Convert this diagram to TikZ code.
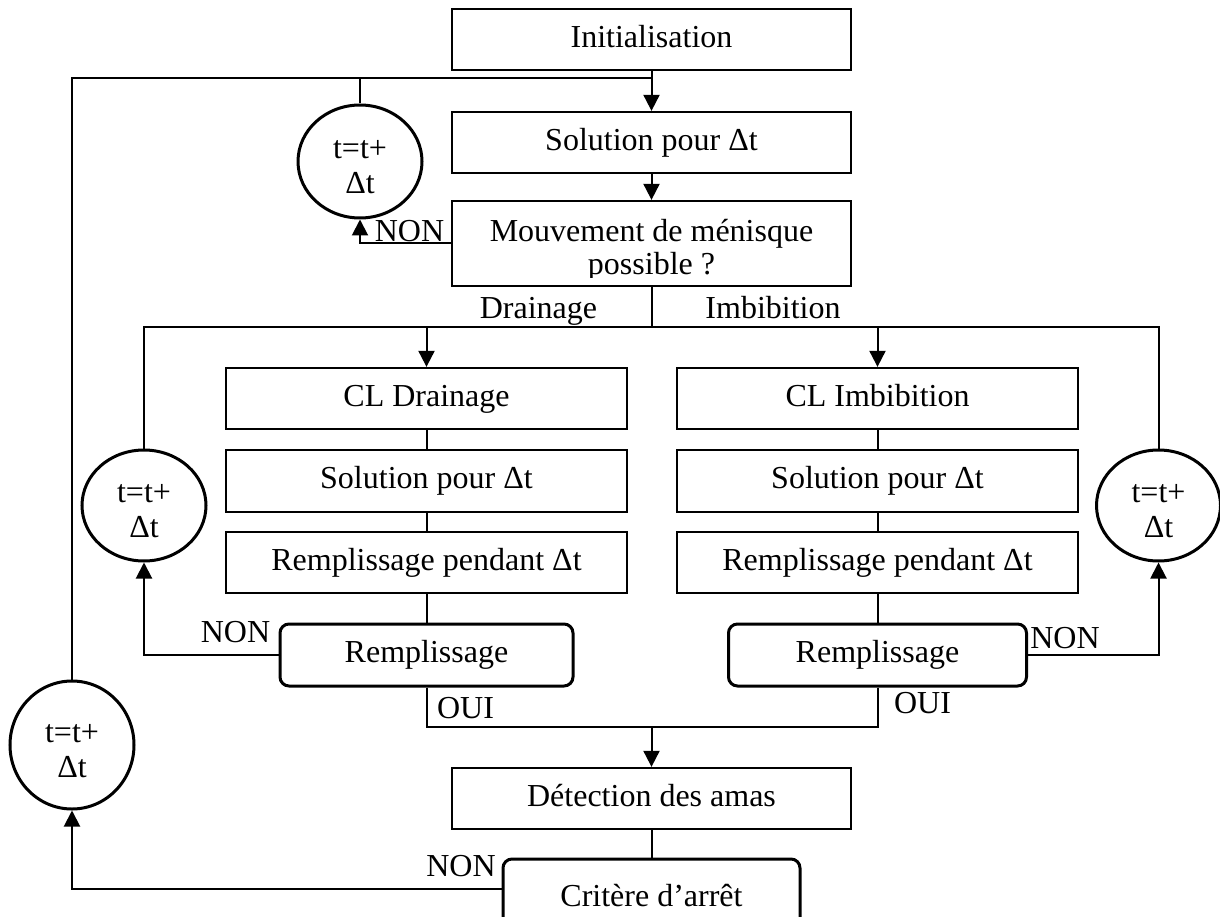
\documentclass[tikz,border=0pt]{standalone}
\usepackage{fontspec}
\setmainfont{Liberation Serif}
\usetikzlibrary{arrows.meta,shapes.geometric,calc}
\begin{document}
\begin{tikzpicture}[x=1pt,y=-1pt,
  every node/.style={font=\fontsize{32}{37}\selectfont, inner sep=0pt},
  txt/.style={text height=22.4pt, text depth=7pt},
  box/.style={txt, draw, line width=2.3pt, minimum width=399pt, minimum height=61pt},
  cbox/.style={box, minimum width=401pt},
  rbox/.style={txt, draw, line width=3pt, rounded corners=9pt, minimum height=62pt},
  loopc/.style={draw, ellipse, line width=3pt, minimum width=124pt, align=center, font=\fontsize{32}{35}\selectfont},
  con/.style={line width=2pt},
  arr/.style={line width=2pt, -{Triangle[length=16pt,width=16pt]}},
  lbl/.style={txt, anchor=base}
]
\useasboundingbox (0,0) rectangle (1220,917);

% main column
\node[box] (init) at (651.5,39.5) {Initialisation};
\node[box] (sol) at (651.5,142.5) {Solution pour Δt};
\node[box, minimum height=85pt] (mouv) at (651.5,243.5) {};
\begin{scope}
  \clip (452,201) rectangle (851,277);
  \node[lbl] (mouvA) at (651.5,242) {Mouvement de ménisque};
  \node[lbl] (mouvB) at (651.5,275) {possible ?};
\end{scope}

% drainage column
\node[cbox] (cld) at (426.5,398.5) {CL Drainage};
\node[cbox, minimum height=62pt] (sold) at (426.5,481) {Solution pour Δt};
\node[cbox] (rempd) at (426.5,562.5) {Remplissage pendant Δt};
\node[rbox, minimum width=293pt] (rd) at (426.5,655) {Remplissage};

% imbibition column
\node[cbox] (cli) at (877.5,398.5) {CL Imbibition};
\node[cbox, minimum height=62pt] (soli) at (877.5,481) {Solution pour Δt};
\node[cbox] (rempi) at (877.5,562.5) {Remplissage pendant Δt};
\node[rbox, minimum width=298pt] (ri) at (877.5,655) {Remplissage};

% bottom
\node[box] (det) at (651.5,798.5) {Détection des amas};
\node[rbox, minimum width=297pt, minimum height=80pt] (crit) at (651.5,899) {Critère d’arrêt};

% loops
\node[loopc, minimum height=113pt] (c1) at (360,161.5) {\rule{0pt}{30pt}t=t+\\Δt};
\node[loopc, minimum height=111pt] (c2) at (144,505.5) {\rule{0pt}{30pt}t=t+\\Δt};
\node[loopc, minimum height=111pt] (c3) at (1158.5,505.5) {\rule{0pt}{30pt}t=t+\\Δt};
\node[loopc, minimum height=128pt] (c4) at (72,745) {\rule{0pt}{30pt}t=t+\\Δt};

% junctions
\coordinate (jtop) at (651.5,78);
\coordinate (jm) at (651.5,327);
\coordinate (jd) at (426.5,327);
\coordinate (ji) at (877.5,327);
\coordinate (jo) at (651.5,727);

% connectors
\draw[arr] (init.south) -- (sol.north);
\draw[arr] (sol.south) -- (mouv.north);
\draw[con] (c4.north) |- (jtop);
\draw[con] (c1.north) |- (jtop);
\draw[arr] (mouv.west) -| (c1.south);
\draw[con] (mouv.south) -- (jm);
\draw[arr] (jm) -| (cld.north);
\draw[arr] (jm) -| (cli.north);
\draw[con] (c2.north) |- (jd);
\draw[con] (c3.north) |- (ji);
\draw[con] (cld.south) -- (sold.north);
\draw[con] (sold.south) -- (rempd.north);
\draw[con] (rempd.south) -- (rd.north);
\draw[con] (cli.south) -- (soli.north);
\draw[con] (soli.south) -- (rempi.north);
\draw[con] (rempi.south) -- (ri.north);
\draw[arr] (rd.west) -| (c2.south);
\draw[arr] (ri.east) -| (c3.south);
\draw[con] (rd.south) |- (jo);
\draw[con] (ri.south) |- (jo);
\draw[arr] (jo) -- (det.north);
\draw[con] (det.south) -- (crit.north);
\draw[arr] ([yshift=10pt]crit.west) -| (c4.south);

% labels
\node[lbl] (nonA) at (409.5,242) {NON};
\node[lbl] (drain) at (538.5,318) {Drainage};
\node[lbl] (imb) at (773,318) {Imbibition};
\node[lbl] (nonB) at (235.5,642) {NON};
\node[lbl] (nonC) at (1065,648) {NON};
\node[lbl] (ouiA) at (465.5,718) {OUI};
\node[lbl] (ouiB) at (922.5,713) {OUI};
\node[lbl] (nonD) at (461,876) {NON};
\end{tikzpicture}
\end{document}
